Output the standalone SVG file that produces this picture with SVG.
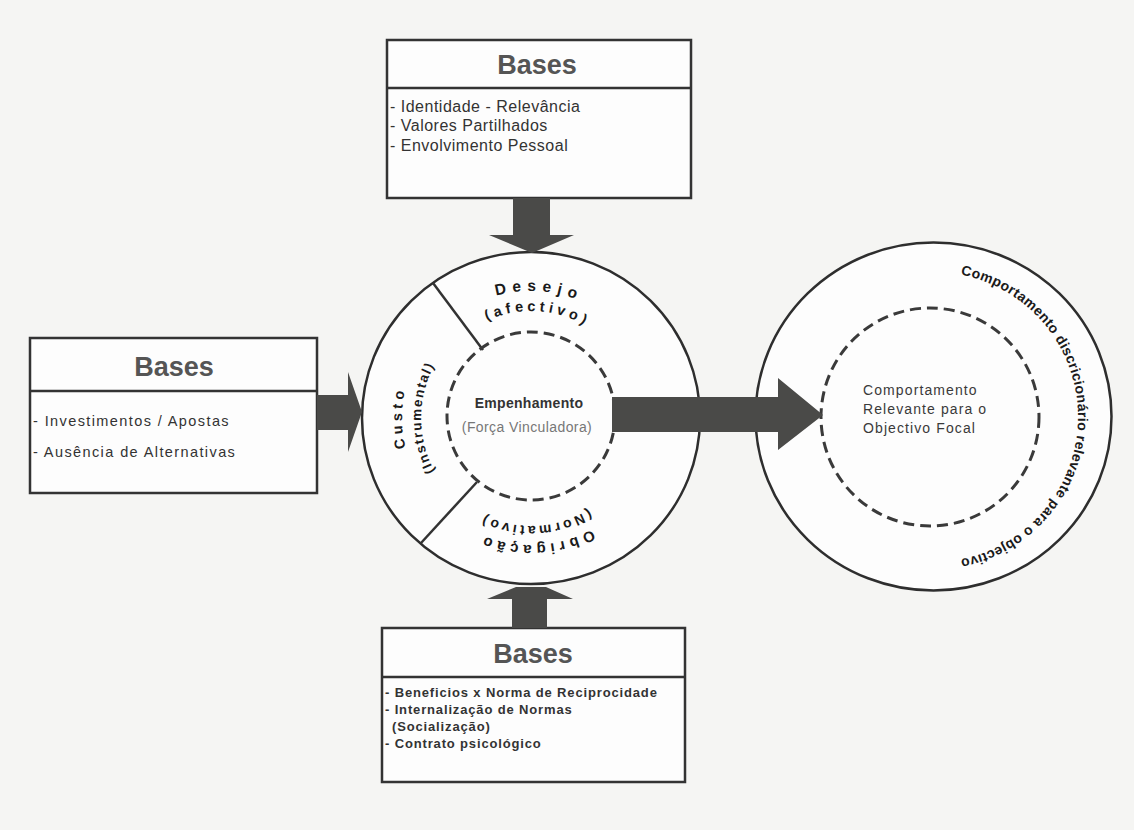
<svg xmlns="http://www.w3.org/2000/svg" width="1134" height="830" viewBox="0 0 1134 830">
  <style>
    text { font-family: "Liberation Sans", Arial, sans-serif; }
    .box { fill: #fdfdfd; stroke: #333; stroke-width: 2.5; }
    .rule { stroke: #333; stroke-width: 2.5; }
    .ring { fill: #fdfdfd; stroke: #2e2e2e; stroke-width: 2.5; }
    .dash { fill: none; stroke: #3a3a3a; stroke-width: 3; stroke-dasharray: 11 6; }
    .head { font-size: 27px; font-weight: bold; fill: #555; text-anchor: middle; }
    .body { font-size: 16px; fill: #333; letter-spacing: 0.5px; }
    .bodyL { font-size: 14.5px; fill: #333; letter-spacing: 1.4px; }
    .bodyB { font-size: 13px; font-weight: bold; fill: #333; letter-spacing: 0.85px; }
    .arc { font-weight: bold; fill: #1a1a1a; }
    .arrow { fill: #4a4a48; }
  </style>
  <defs>
    <path id="pDesejo" d="M 404,418 A 127 127 0 0 1 658,418"/>
    <path id="pAfectivo" d="M 424,418 A 107 107 0 0 1 638,418"/>
    <path id="pCusto" d="M 531,547 A 129 129 0 0 1 531,289"/>
    <path id="pInstr" d="M 531,528 A 110 110 0 0 1 531,308"/>
    <path id="pObrig" d="M 658,418 A 127 127 0 0 1 404,418"/>
    <path id="pNorm" d="M 639,418 A 108 108 0 0 1 423,418"/>
    <path id="pDiscr" d="M 933,272 A 145 145 0 0 1 933,562"/>
  </defs>

  <rect x="0" y="0" width="1134" height="830" fill="#f5f5f3"/>

  <!-- top bases box -->
  <g id="bases-top">
    <rect class="box" x="387" y="40" width="304" height="158"/>
    <line class="rule" x1="387" y1="88" x2="691" y2="88"/>
    <text class="head" x="537" y="74">Bases</text>
    <text class="body" x="390" y="112">- Identidade - Relevância</text>
    <text class="body" x="390" y="131">- Valores Partilhados</text>
    <text class="body" x="390" y="151">- Envolvimento Pessoal</text>
  </g>

  <!-- left bases box -->
  <g id="bases-left">
    <rect class="box" x="30" y="338" width="287" height="155"/>
    <line class="rule" x1="30" y1="391" x2="317" y2="391"/>
    <text class="head" x="174" y="376">Bases</text>
    <text class="bodyL" x="33" y="426">- Investimentos / Apostas</text>
    <text class="bodyL" x="33" y="457">- Ausência de Alternativas</text>
  </g>

  <!-- bottom bases box -->
  <g id="bases-bottom">
    <rect class="box" x="382" y="628" width="303" height="154"/>
    <line class="rule" x1="382" y1="677" x2="685" y2="677"/>
    <text class="head" x="533" y="663">Bases</text>
    <text class="bodyB" x="385" y="697">- Beneficios x Norma de Reciprocidade</text>
    <text class="bodyB" x="385" y="714">- Internalização de Normas</text>
    <text class="bodyB" x="392" y="731">(Socialização)</text>
    <text class="bodyB" x="385" y="748">- Contrato psicológico</text>
  </g>

  <!-- commitment ring with its three sectors -->
  <g id="empenhamento">
    <ellipse class="ring" cx="531" cy="418" rx="169" ry="166"/>
    <line class="rule" x1="433" y1="283" x2="483" y2="350"/>
    <line class="rule" x1="421" y1="543" x2="477" y2="482"/>
    <circle class="dash" cx="531" cy="416" r="84"/>
    <text class="arc" font-size="15.5" letter-spacing="6"><textPath href="#pDesejo" startOffset="52%" text-anchor="middle">Desejo</textPath></text>
    <text class="arc" font-size="14.5" letter-spacing="4"><textPath href="#pAfectivo" startOffset="52%" text-anchor="middle">(afectivo)</textPath></text>
    <text class="arc" font-size="14.5" letter-spacing="4"><textPath href="#pCusto" startOffset="50%" text-anchor="middle">Custo</textPath></text>
    <text class="arc" font-size="13.5" letter-spacing="1.5"><textPath href="#pInstr" startOffset="50%" text-anchor="middle">(Instrumental)</textPath></text>
    <text class="arc" font-size="15" letter-spacing="4.5"><textPath href="#pObrig" startOffset="48.5%" text-anchor="middle">Obrigação</textPath></text>
    <text class="arc" font-size="14" letter-spacing="3"><textPath href="#pNorm" startOffset="48.5%" text-anchor="middle">(Normativo)</textPath></text>
    <text x="529" y="408" font-size="14" font-weight="bold" fill="#333" text-anchor="middle" letter-spacing="0.3">Empenhamento</text>
    <text x="527" y="432" font-size="14" fill="#777" text-anchor="middle" letter-spacing="0.4">(Força Vinculadora)</text>
  </g>

  <!-- focal behaviour ring -->
  <g id="comportamento">
    <ellipse class="ring" cx="933.5" cy="416.5" rx="178" ry="174"/>
    <circle class="dash" cx="930" cy="417" r="109"/>
    <text font-size="14" fill="#3a3a3a" letter-spacing="1.1">
      <tspan x="863" y="395">Comportamento</tspan>
      <tspan x="863" y="414">Relevante para o</tspan>
      <tspan x="863" y="433">Objectivo Focal</tspan>
    </text>
    <text class="arc" font-size="14"><textPath href="#pDiscr" startOffset="50%" text-anchor="middle" textLength="400">Comportamento discricionário relevante para o objectivo</textPath></text>
  </g>

  <!-- block arrows -->
  <g id="connectors">
    <polygon class="arrow" points="513,198 550,198 550,235 574,235 532,253 489,235 513,235"/>
    <polygon class="arrow" points="317,395 348,395 348,372 362,412 348,452 348,430 317,430"/>
    <polygon class="arrow" points="512,628 547,628 547,599 573,599 546,587 516,587 487,599 512,599"/>
    <polygon class="arrow" points="612,397 778,397 778,378 823,415 778,450 778,432 612,432"/>
  </g>
</svg>
